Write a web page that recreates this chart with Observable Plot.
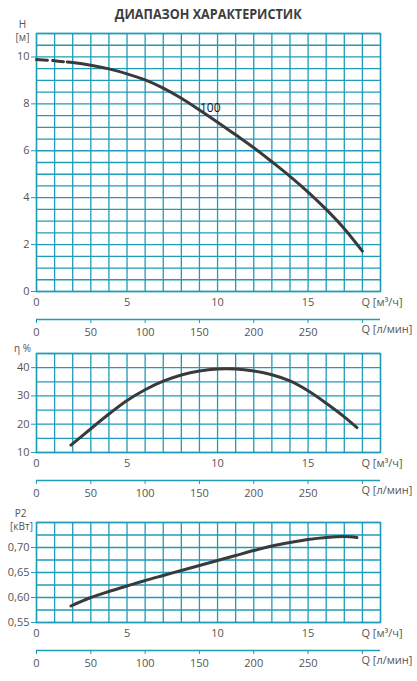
<!DOCTYPE html>
<html>
<head>
<meta charset="utf-8">
<script src="https://cdn.jsdelivr.net/npm/d3@7"></script>
<script src="https://cdn.jsdelivr.net/npm/@observablehq/plot@0.6"></script>
<style>
  html, body { margin: 0; padding: 0; background: #fff; }
  #root { position: relative; width: 417px; height: 681px; overflow: hidden; font-family: "Open Sans", sans-serif; }
  #title { position: absolute; top: 2px; left: 0; width: 417px; text-align: center; }
  #title span { display: inline-block; font-weight: 700; font-size: 15px; color: #3d3d3d; transform: scaleX(0.84); transform-origin: center; white-space: nowrap; }
  .panel { position: absolute; left: 0; }
  .panel svg { overflow: visible; }
</style>
</head>
<body>
<div id="root">
  <div id="title"><span id="titleText"></span></div>
  <div class="panel" id="p1"></div>
  <div class="panel" id="p2"></div>
  <div class="panel" id="p3"></div>
</div>
<script>
// ---- data ----
const titleText = "ДИАПАЗОН ХАРАКТЕРИСТИК";
const qTicks = [0, 5, 10, 15];                       // m³/h labels
const lpmTicks = [0, 50, 100, 150, 200, 250, 300];   // l/min tick positions
const lpmLabels = [0, 50, 100, 150, 200, 250];       // l/min labelled ticks
const curveLabel = "100";

// head curve H(Q)
const headQ = [0, 1, 1.7, 2, 3, 4, 5, 6, 7, 8, 9, 10, 11, 12, 13, 14, 15, 16, 17, 18];
const headH = [9.89, 9.84, 9.78, 9.76, 9.65, 9.49, 9.28, 9.02, 8.67, 8.24, 7.74, 7.22, 6.68, 6.13, 5.53, 4.91, 4.24, 3.5, 2.68, 1.72];
const headTicks = [0, 2, 4, 6, 8, 10];

// efficiency η(Q)
const effQ = [1.9, 3, 4, 5, 6, 7, 8, 9, 10, 11, 12, 13, 14, 15, 16, 17, 17.7];
const effV = [12.6, 18.4, 23.6, 28.4, 32.2, 35.2, 37.4, 38.8, 39.5, 39.5, 38.8, 37.5, 35.3, 31.8, 27.4, 22.6, 18.8];
const effTicks = [10, 20, 30, 40];

// power P2(Q)
const powQ = [1.9, 3, 4, 5, 6, 7, 8, 9, 10, 11, 12, 13, 14, 15, 16, 17, 17.7];
const powP = [0.583, 0.600, 0.612, 0.623, 0.634, 0.644, 0.654, 0.664, 0.674, 0.684, 0.694, 0.703, 0.710, 0.716, 0.720, 0.722, 0.720];
const powTicks = [0.55, 0.60, 0.65, 0.70];

document.getElementById("titleText").textContent = titleText;

// ---- styling ----
const teal = "#1e9cb9";
const ink = "#3a3a3a";
const txt = "#555";

function nameText(t, dx, dy) {
  return Plot.text([t], {frameAnchor: "top-left", textAnchor: "middle", lineAnchor: "middle", dx, dy, fill: txt, fontSize: 10});
}

function panel({yDomain, gridStep, yTicks, yFormat, series, dashed, labels, extra = [], marginTop, height}) {
  const [y0, y1] = yDomain;
  const gridYs = d3.range(Math.round((y1 - y0) / gridStep) + 1).map(i => y0 + i * gridStep);
  return Plot.plot({
    width: 417,
    height,
    marginLeft: 36,
    marginRight: 37,
    marginTop,
    marginBottom: 50,
    style: {fontFamily: "'Open Sans', sans-serif", fontSize: "11px", color: txt, background: "transparent", overflow: "visible"},
    x: {domain: [0, 19], axis: null, label: null},
    y: {domain: yDomain, axis: null, label: null},
    marks: [
      Plot.gridX(d3.range(0, 20), {stroke: teal, strokeOpacity: 1, strokeWidth: 1.3}),
      Plot.gridY(gridYs, {stroke: teal, strokeOpacity: 1, strokeWidth: 1.3}),
      Plot.frame({stroke: teal, strokeWidth: 1.4}),
      Plot.axisY(yTicks, {label: null, tickSize: 5, tickPadding: 2, stroke: teal, fill: txt, fontSize: 11, tickFormat: yFormat}),
      // m³/h labels
      Plot.text(qTicks, {x: d => d, text: d => String(d), frameAnchor: "bottom", dy: 14, fill: txt, fontSize: 11}),
      Plot.text(["Q [м³/ч]"], {x: 18, frameAnchor: "bottom", textAnchor: "start", dy: 14, dx: -1, fill: txt, fontSize: 11}),
      // l/min secondary axis
      Plot.ruleY([y0], {stroke: teal, strokeWidth: 1.3, dy: 28}),
      Plot.axisX(lpmTicks.map(d => d * 0.06), {label: null, anchor: "bottom", tickSize: 4, tickPadding: 5, dy: 28, stroke: teal, fill: txt, fontSize: 11,
        tickFormat: d => { const v = Math.round(d / 0.06); return lpmLabels.includes(v) ? String(v) : ""; }}),
      Plot.text(["Q [л/мин]"], {x: 18, frameAnchor: "bottom", textAnchor: "start", dy: 41.5, dx: -1, fill: txt, fontSize: 11}),
      // axis name
      ...labels,
      // curves
      ...(dashed ? [Plot.line(dashed, {x: "q", y: "v", stroke: ink, strokeWidth: 3, strokeDasharray: "11,5", curve: "catmull-rom"})] : []),
      Plot.line(series, {x: "q", y: "v", stroke: ink, strokeWidth: 3, curve: "catmull-rom"}),
      ...extra
    ]
  });
}

const headAll = headQ.map((q, i) => ({q, v: headH[i]}));
const headDash = headAll.filter(d => d.q <= 1.7);
const headSolid = headAll.filter(d => d.q >= 1.7);

const p1 = panel({
  yDomain: [0, 11], gridStep: 0.5, yTicks: headTicks, yFormat: d => String(d),
  series: headSolid, dashed: headDash, marginTop: 15, height: 323,
  labels: [nameText("H", -14, -8.5), nameText("[м]", -14, 4.5)],
  extra: [Plot.text([{q: 9.6, v: 7.82}], {x: "q", y: "v", text: () => curveLabel, fill: "#111", fontSize: 12})]
});
document.getElementById("p1").style.top = "18px";
document.getElementById("p1").append(p1);

const p2 = panel({
  yDomain: [10, 45], gridStep: 5, yTicks: effTicks, yFormat: d => String(d),
  series: effQ.map((q, i) => ({q, v: effV[i]})), marginTop: 12, height: 161,
  labels: [nameText("η %", -14, -5)]
});
document.getElementById("p2").style.top = "341px";
document.getElementById("p2").append(p2);

const p3 = panel({
  yDomain: [0.55, 0.75], gridStep: 0.025, yTicks: powTicks, yFormat: d => d.toFixed(2).replace(".", ","),
  series: powQ.map((q, i) => ({q, v: powP[i]})), marginTop: 20, height: 170,
  labels: [nameText("P2", -16, -8.5), nameText("[кВт]", -15, 4.5)]
});
document.getElementById("p3").style.top = "502px";
document.getElementById("p3").append(p3);
</script>
</body>
</html>
